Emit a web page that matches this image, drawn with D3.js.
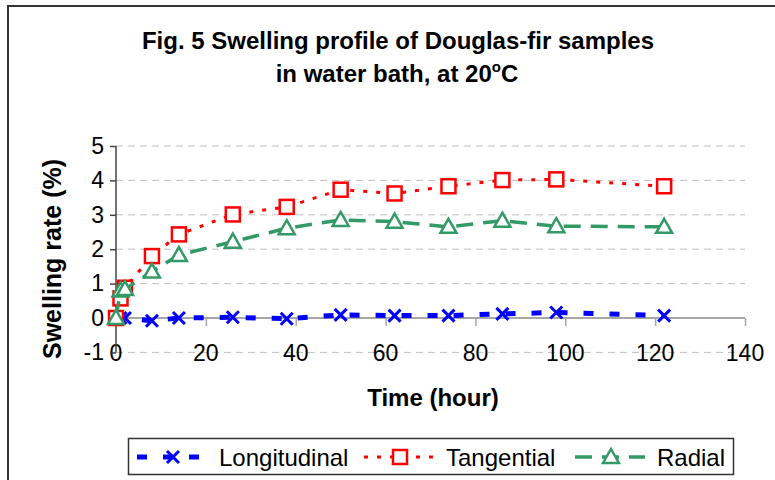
<!DOCTYPE html>
<head>
<meta charset="utf-8">
<title>Swelling profile</title>
<script type="text/javascript" src="https://d3js.org/d3.v7.min.js"></script>
<style>
  body { margin: 0; background: #fff; }
  text { font-family: "Liberation Sans", Arial, sans-serif; fill: #000; }
</style>
</head>
<body>
<script>
//-----------------------------DATA------------------------------//
const hours = [0, 1, 2, 8, 14, 26, 38, 50, 62, 74, 86, 98, 122];
const longitudinal = [0, 0, 0, -0.08, 0, 0.02, -0.02, 0.09, 0.07, 0.07, 0.12, 0.16, 0.07];
const tangential = [0, 0.57, 0.88, 1.80, 2.43, 3.01, 3.23, 3.73, 3.62, 3.83, 4.01, 4.03, 3.83];
const radial = [0, 0.80, 0.84, 1.35, 1.83, 2.22, 2.61, 2.85, 2.80, 2.65, 2.83, 2.67, 2.65];
const seriesNames = ["Longitudinal", "Tangential", "Radial"];
const xTicks = [0, 20, 40, 60, 80, 100, 120, 140];
const yTicks = [-1, 0, 1, 2, 3, 4, 5];

const series = [
  {name: seriesNames[0], values: longitudinal, color: "#0000ff", dash: "10,16", width: 5, marker: "x"},
  {name: seriesNames[1], values: tangential, color: "#ff0000", dash: "4,9", width: 3, marker: "square"},
  {name: seriesNames[2], values: radial, color: "#339966", dash: "17,10", width: 3.5, marker: "triangle"}
];

//-----------------------------SVG-------------------------------//
const W = 775, H = 480;
const svg = d3.select("body").append("svg")
    .attr("width", W)
    .attr("height", H);

// chart frame (right and bottom edges fall outside the picture)
svg.append("rect")
    .attr("x", 8).attr("y", 6)
    .attr("width", 820).attr("height", 520)
    .attr("fill", "none")
    .attr("stroke", "#333")
    .attr("stroke-width", 2);

//----------------------------SCALES-----------------------------//
const xScale = d3.scaleLinear().domain([0, 140]).range([116, 745]);
const yScale = d3.scaleLinear().domain([-1, 5]).range([352.4, 146]);

//----------------------------TITLE------------------------------//
svg.append("text")
    .attr("x", 398).attr("y", 49)
    .attr("text-anchor", "middle")
    .style("font-size", "24px").style("font-weight", "bold")
    .text("Fig. 5 Swelling profile of Douglas-fir samples");

const t2 = svg.append("text")
    .attr("x", 397).attr("y", 82)
    .attr("text-anchor", "middle")
    .style("font-size", "24px").style("font-weight", "bold");
t2.append("tspan").text("in water bath, at 20");
t2.append("tspan").attr("dy", -10).style("font-size", "15px").text("o");
t2.append("tspan").attr("dy", 10).text("C");

//----------------------------GRID-------------------------------//
svg.append("g")
    .selectAll("line")
    .data(yTicks.filter(d => d !== 0))
    .enter().append("line")
    .attr("x1", xScale(0)).attr("x2", xScale(140))
    .attr("y1", d => yScale(d)).attr("y2", d => yScale(d))
    .attr("stroke", "#c0c0c0")
    .attr("stroke-dasharray", "7,5")
    .attr("stroke-width", 1);

//-----------------------------AXES------------------------------//
const xaxis = d3.axisBottom(xScale)
    .tickValues(xTicks)
    .tickSize(8)
    .tickFormat(d => "");

const gx = svg.append("g")
    .attr("transform", "translate(0," + yScale(0) + ")")
    .call(xaxis);
gx.select(".domain").attr("stroke", "#a6a6a6").attr("stroke-width", 2).attr("d", "M" + xScale(0) + ",0H" + xScale(140));
gx.selectAll(".tick line").attr("stroke", "#a6a6a6").attr("stroke-width", 1.5);

// x tick labels sit at the bottom of the plot
svg.append("g")
    .selectAll("text")
    .data(xTicks)
    .enter().append("text")
    .attr("x", d => xScale(d))
    .attr("y", yScale(-1) + 9)
    .attr("text-anchor", "middle")
    .style("font-size", "23px")
    .text(d => d);

const yaxis = d3.axisLeft(yScale)
    .tickValues(yTicks)
    .tickSize(6)
    .tickPadding(6)
    .tickFormat(d => d);

const gy = svg.append("g")
    .attr("transform", "translate(" + xScale(0) + ",0)")
    .call(yaxis);
gy.select(".domain").attr("stroke", "#444").attr("stroke-width", 1.5).attr("d", "M0," + yScale(5) + "V" + yScale(-1));
gy.selectAll(".tick line").attr("stroke", "#444").attr("stroke-width", 1.5);
gy.selectAll(".tick text")
    .style("font-size", "23px")
    .style("font-family", "'Liberation Sans', Arial, sans-serif")
    .attr("fill", "#000");

svg.append("text")
    .attr("transform", "translate(61,259) rotate(-90)")
    .attr("text-anchor", "middle")
    .style("font-size", "25px").style("font-weight", "bold")
    .text("Swelling rate (%)");

svg.append("text")
    .attr("x", 433).attr("y", 406)
    .attr("text-anchor", "middle")
    .style("font-size", "24px").style("font-weight", "bold")
    .text("Time (hour)");

//---------------------------MARKERS-----------------------------//
function drawMarker(g, type, color) {
  if (type === "x") {
    g.append("path").attr("d", "M-6,-6L6,6M-6,6L6,-6")
      .attr("stroke", color).attr("stroke-width", 3).attr("fill", "none");
  } else if (type === "square") {
    g.append("rect").attr("x", -7).attr("y", -7).attr("width", 14).attr("height", 14)
      .attr("stroke", color).attr("stroke-width", 2.5).attr("fill", "#fff");
  } else {
    g.append("path").attr("d", "M0,-8L8,6H-8Z")
      .attr("stroke", color).attr("stroke-width", 2.5).attr("fill", "#fff");
  }
}

//----------------------------LINES------------------------------//
const line = d3.line()
    .x((d, i) => xScale(hours[i]))
    .y(d => yScale(d));

series.forEach(function(s) {
  const g = svg.append("g");
  g.append("path")
      .attr("d", line(s.values))
      .attr("fill", "none")
      .attr("stroke", s.color)
      .attr("stroke-width", s.width)
      .attr("stroke-dasharray", s.dash);
  g.selectAll("g.pt")
      .data(s.values)
      .enter().append("g")
      .attr("class", "pt")
      .attr("transform", (d, i) => "translate(" + xScale(hours[i]) + "," + yScale(d) + ")")
      .each(function() { drawMarker(d3.select(this), s.marker, s.color); });
});

//----------------------------LEGEND-----------------------------//
svg.append("rect")
    .attr("x", 128.5).attr("y", 438.5)
    .attr("width", 605).attr("height", 36)
    .attr("fill", "#fff")
    .attr("stroke", "#333")
    .attr("stroke-width", 1.5);

const legendX = [137, 364, 575];
series.forEach(function(s, i) {
  const lg = svg.append("g").attr("transform", "translate(" + legendX[i] + ",457)");
  lg.append("line")
      .attr("x1", 0).attr("x2", 70)
      .attr("stroke", s.color)
      .attr("stroke-width", s.width)
      .attr("stroke-dasharray", s.dash);
  const m = lg.append("g").attr("transform", "translate(36,0)");
  drawMarker(m, s.marker, s.color);
  lg.append("text")
      .attr("x", 82).attr("y", 9)
      .style("font-size", "24px")
      .text(s.name);
});
</script>
</body>
</html>
